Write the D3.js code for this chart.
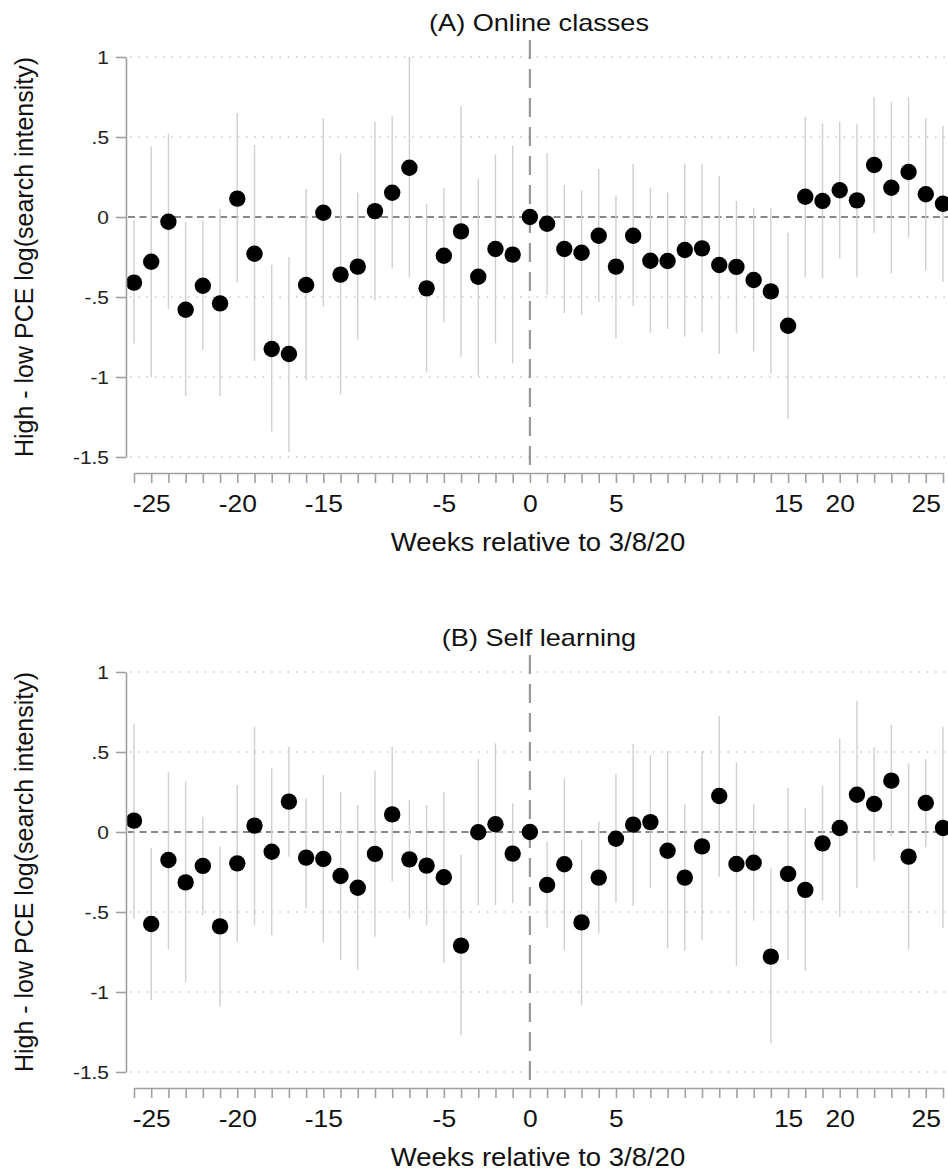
<!DOCTYPE html>
<html>
<head>
<meta charset="utf-8">
<script src="https://cdn.jsdelivr.net/npm/d3@7"></script>
<style>
  body { margin: 0; background: #fff; }
  svg { display: block; font-family: "Liberation Sans", Arial, sans-serif; }
</style>
</head>
<body>
<svg id="chart" width="948" height="1173"></svg>
<script>
// plot positions (weeks, in the order drawn)
var weeks = [-23, -22, -21, -20, -19, -18, -17, -16, -15, -14, -13, -12, -11, -10, -9, -8, -7, -6, -5, -4, -3, -2, -1,
             0, 1, 2, 3, 4, 5, 6, 7, 8, 9, 10, 11, 12, 13, 14, 15, 16, 17, 18, 19, 20, 21, 22, 23, 24];

// x tick labels as printed on the original axis
var xTickPos = [-22, -17, -12, -5, 0, 5, 15, 18, 23];
var xTickLabels = ["-25", "-20", "-15", "-5", "0", "5", "15", "20", "25"];

var yTicks = [-1.5, -1, -0.5, 0, 0.5, 1];
var yTickLabels = ["-1.5", "-1", "-.5", "0", ".5", "1"];

// (A) Online classes
var onlineEst = [-0.41, -0.28, -0.03, -0.58, -0.43, -0.54, 0.115, -0.23, -0.825, -0.856, -0.425, 0.027, -0.36, -0.31, 0.037, 0.152, 0.308, -0.446, -0.242, -0.09, -0.373, -0.2, -0.235,
                 0, -0.042, -0.2, -0.223, -0.117, -0.31, -0.117, -0.273, -0.275, -0.206, -0.196, -0.3, -0.312, -0.394, -0.465, -0.68, 0.127, 0.1, 0.167, 0.104, 0.325, 0.183, 0.281, 0.142, 0.083];
var onlineLo = [-0.79, -1.0, -0.575, -1.12, -0.83, -1.12, -0.41, -0.9, -1.34, -1.47, -1.02, -0.56, -1.11, -0.765, -0.52, -0.32, -0.377, -0.97, -0.66, -0.873, -0.99, -0.79, -0.915,
                null, -0.487, -0.6, -0.61, -0.535, -0.758, -0.556, -0.723, -0.7, -0.748, -0.72, -0.856, -0.723, -0.84, -0.98, -1.264, -0.373, -0.383, -0.258, -0.377, -0.098, -0.352, -0.127, -0.335, -0.404];
var onlineHi = [-0.02, 0.44, 0.52, -0.03, -0.02, 0.05, 0.65, 0.45, -0.3, -0.25, 0.175, 0.617, 0.394, 0.152, 0.596, 0.63, 1.0, 0.081, 0.18, 0.694, 0.24, 0.39, 0.446,
                null, 0.4, 0.2, 0.165, 0.3, 0.133, 0.331, 0.183, 0.152, 0.335, 0.329, 0.258, 0.1, 0.054, 0.054, -0.098, 0.627, 0.585, 0.596, 0.58, 0.748, 0.72, 0.748, 0.617, 0.569];

// (B) Self learning
var selfEst = [0.071, -0.575, -0.175, -0.315, -0.212, -0.59, -0.196, 0.04, -0.123, 0.19, -0.16, -0.169, -0.275, -0.348, -0.137, 0.11, -0.171, -0.21, -0.283, -0.71, -0.002, 0.048, -0.135,
               0, -0.331, -0.202, -0.565, -0.285, -0.042, 0.046, 0.062, -0.117, -0.285, -0.09, 0.225, -0.2, -0.192, -0.779, -0.262, -0.362, -0.071, 0.025, 0.233, 0.175, 0.321, -0.154, 0.181, 0.025];
var selfLo = [-0.54, -1.05, -0.733, -0.94, -0.52, -1.09, -0.686, -0.58, -0.644, -0.154, -0.477, -0.69, -0.8, -0.862, -0.654, -0.31, -0.54, -0.58, -0.817, -1.27, -0.46, -0.456, -0.446,
              null, -0.6, -0.737, -1.08, -0.633, -0.44, -0.462, -0.352, -0.727, -0.742, -0.675, -0.279, -0.837, -0.554, -1.32, -0.8, -0.867, -0.429, -0.529, -0.352, -0.179, -0.029, -0.733, -0.096, -0.6];
var selfHi = [0.675, -0.1, 0.377, 0.315, 0.096, -0.092, 0.294, 0.658, 0.398, 0.533, 0.21, 0.356, 0.252, 0.169, 0.383, 0.533, 0.2, 0.169, 0.252, -0.144, 0.454, 0.554, 0.179,
              null, -0.06, 0.335, -0.046, 0.065, 0.362, 0.55, 0.48, 0.506, 0.175, 0.506, 0.725, 0.435, 0.175, -0.227, 0.277, 0.148, 0.29, 0.585, 0.82, 0.529, 0.669, 0.429, 0.454, 0.658];

var svg = d3.select("#chart");

var x = d3.scaleLinear().domain([-23, 24]).range([134, 943]);
var y = d3.scaleLinear().domain([-1.5, 1]).range([457, 57]);

function drawPanel(offsetY, title, est, lo, hi) {
    var g = svg.append("g").attr("transform", "translate(0," + offsetY + ")");

    // dotted grid lines
    g.append("g").selectAll("line")
        .data(yTicks.filter(function(d) { return d != 0; }))
        .enter().append("line")
        .attr("x1", 130).attr("x2", 948)
        .attr("y1", function(d) { return y(d); })
        .attr("y2", function(d) { return y(d); })
        .attr("stroke", "#c4c4c4")
        .attr("stroke-width", 1.4)
        .attr("stroke-dasharray", "1.4,6.9");

    // reference lines
    g.append("line")
        .attr("x1", 128).attr("x2", 948)
        .attr("y1", y(0)).attr("y2", y(0))
        .attr("stroke", "#888").attr("stroke-width", 2.2)
        .attr("stroke-dasharray", "7,4.5");
    g.append("line")
        .attr("x1", x(0)).attr("x2", x(0))
        .attr("y1", 40).attr("y2", 473)
        .attr("stroke", "#999").attr("stroke-width", 2.2)
        .attr("stroke-dasharray", "19,10");

    // confidence intervals
    var rows = weeks.map(function(w, i) { return { w: w, est: est[i], lo: lo[i], hi: hi[i] }; });
    g.append("g").selectAll("line")
        .data(rows.filter(function(d) { return d.lo != null; }))
        .enter().append("line")
        .attr("x1", function(d) { return x(d.w); })
        .attr("x2", function(d) { return x(d.w); })
        .attr("y1", function(d) { return y(d.lo); })
        .attr("y2", function(d) { return y(d.hi); })
        .attr("stroke", "#cfcfcf")
        .attr("stroke-width", 1.4);

    // point estimates
    g.append("g").selectAll("circle")
        .data(rows)
        .enter().append("circle")
        .attr("cx", function(d) { return x(d.w); })
        .attr("cy", function(d) { return y(d.est); })
        .attr("r", 8.2)
        .attr("fill", "#000");

    // y axis
    var yAxis = g.append("g").attr("transform", "translate(126,0)")
        .call(d3.axisLeft(y).tickValues(yTicks).tickSize(10).tickSizeOuter(0)
            .tickFormat(function(d, i) { return yTickLabels[i]; }));
    yAxis.select(".domain").attr("stroke", "#a0a0a0").attr("stroke-width", 1.6);
    yAxis.selectAll(".tick line").attr("stroke", "#a0a0a0").attr("stroke-width", 1.6);
    yAxis.selectAll(".tick text")
        .attr("x", null).attr("dy", "0.36em")
        .attr("transform", "translate(-17,0) scale(1.1,1)")
        .attr("fill", "#222")
        .style("font-size", "19px")
        .style("font-family", "Liberation Sans, Arial, sans-serif");

    // x axis
    var xAxis = g.append("g").attr("transform", "translate(0,473)")
        .call(d3.axisBottom(x).tickValues(weeks).tickSize(10).tickSizeOuter(0)
            .tickFormat(function(d) {
                var k = xTickPos.indexOf(d);
                return k >= 0 ? xTickLabels[k] : "";
            }));
    xAxis.select(".domain").attr("stroke", "#a0a0a0").attr("stroke-width", 1.6);
    xAxis.selectAll(".tick line").attr("stroke", "#a0a0a0").attr("stroke-width", 1.6);
    xAxis.selectAll(".tick text")
        .attr("y", null).attr("dy", null)
        .attr("transform", "translate(0,39) scale(1.1,1)")
        .attr("fill", "#111")
        .style("font-size", "24px")
        .style("font-family", "Liberation Sans, Arial, sans-serif");

    // titles
    g.append("text")
        .attr("transform", "translate(539,31) scale(1.13,1)")
        .attr("text-anchor", "middle")
        .attr("fill", "#111")
        .style("font-size", "24px")
        .text(title);
    g.append("text")
        .attr("transform", "translate(538,551) scale(1.1,1)")
        .attr("text-anchor", "middle")
        .attr("fill", "#111")
        .style("font-size", "25px")
        .text("Weeks relative to 3/8/20");
    g.append("text")
        .attr("transform", "translate(33,257) rotate(-90)")
        .attr("text-anchor", "middle")
        .attr("fill", "#111")
        .style("font-size", "25px")
        .text("High - low PCE log(search intensity)");
}

drawPanel(0, "(A) Online classes", onlineEst, onlineLo, onlineHi);
drawPanel(615, "(B) Self learning", selfEst, selfLo, selfHi);
</script>
</body>
</html>
